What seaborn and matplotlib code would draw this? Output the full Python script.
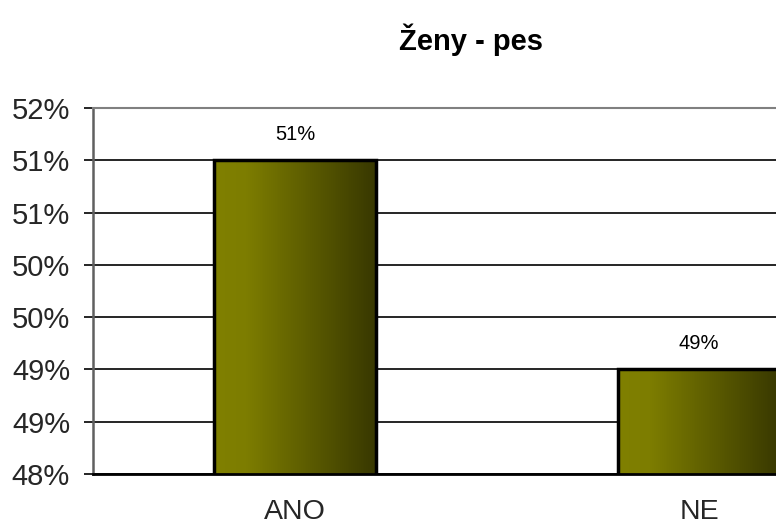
import numpy as np
import pandas as pd
import matplotlib
matplotlib.use("Agg")
import matplotlib.pyplot as plt
import seaborn as sns
from matplotlib.colors import LinearSegmentedColormap

# ---- data ----
categories = ["ANO", "NE"]
values = [51.0, 49.0]            # percent
bar_labels = ["51%", "49%"]
y_ticks = [48.0, 48.5, 49.0, 49.5, 50.0, 50.5, 51.0, 51.5]
y_tick_labels = ["48%", "49%", "49%", "50%", "50%", "51%", "51%", "52%"]
title = "Ženy - pes"

sns.set_theme(style="white")
plt.rcParams["font.family"] = ["Liberation Sans", "DejaVu Sans"]

fig = plt.figure(figsize=(7.76, 5.28), dpi=100)
fig.patch.set_facecolor("white")
W, H = 776, 528
left, right, top, bottom = 93, 901, 108, 474
ax = fig.add_axes([left / W, 1 - bottom / H, (right - left) / W, (bottom - top) / H])

df = pd.DataFrame({"cat": categories, "val": values})
sns.barplot(data=df, x="cat", y="val", width=0.4, color="#808000",
            edgecolor="black", linewidth=2.5, ax=ax, zorder=3)

ax.set_ylim(y_ticks[0], y_ticks[-1])
ax.set_xlim(-0.5, 1.5)
ax.set_yticks(y_ticks)
ax.set_yticklabels(y_tick_labels, fontsize=21)
ax.set_xticks(range(len(categories)))
ax.set_xticklabels(categories, fontsize=20.5)
ax.set_xlabel("")
ax.set_ylabel("")
ax.set_xticks([-0.5, 0.5, 1.5], minor=True)
ax.tick_params(axis="x", which="major", length=0, pad=18)
ax.tick_params(axis="x", which="minor", length=6.5, width=1.2, color="black", direction="out")
ax.tick_params(axis="y", length=6.5, width=1.2, color="black", direction="out", pad=10, left=True)

ax.yaxis.grid(True, color="black", linewidth=1.2, zorder=0)
ax.set_axisbelow(True)

for side in ["top", "right"]:
    ax.spines[side].set_color("#808080")
    ax.spines[side].set_linewidth(1.5)
ax.spines["left"].set_color("#606060")
ax.spines["left"].set_linewidth(1.8)
ax.spines["bottom"].set_color("black")
ax.spines["bottom"].set_linewidth(2)

# gradient fill inside each bar
cmap = LinearSegmentedColormap.from_list(
    "olive", [(0.0, "#808000"), (0.2, "#7d7d00"), (1.0, "#383800")])
grad = np.linspace(0, 1, 256).reshape(1, -1)
for patch, lab in zip(ax.patches, bar_labels):
    x0 = patch.get_x()
    w = patch.get_width()
    h = patch.get_height()
    y0 = patch.get_y()
    patch.set_facecolor("none")
    im = ax.imshow(grad, cmap=cmap, aspect="auto",
                   extent=[x0, x0 + w, ax.get_ylim()[0], y0 + h],
                   zorder=2.5, interpolation="bicubic")
    im.set_clip_path(patch)
    ax.annotate(lab, (x0 + w / 2, y0 + h), xytext=(0, 12),
                textcoords="offset points", ha="center", va="bottom",
                fontsize=14.5, color="black")

ax.set_xlim(-0.5, 1.5)
ax.set_ylim(y_ticks[0], y_ticks[-1])

fig.text(471 / W, 1 - 40 / H, title, ha="center", va="center",
         fontsize=21, fontweight="bold", color="black")

fig.savefig("out.png", dpi=100, facecolor="white")
